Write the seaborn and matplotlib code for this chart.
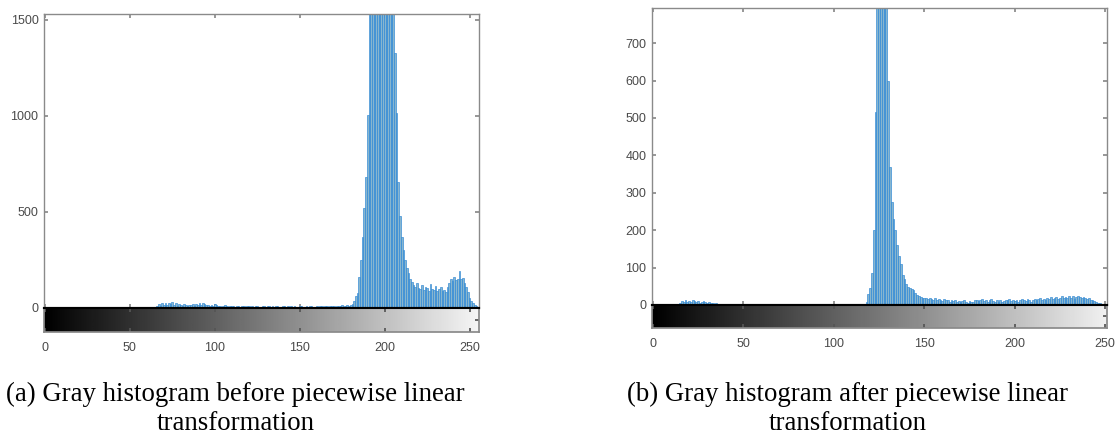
import numpy as np
import pandas as pd
from matplotlib import pyplot as plt
import seaborn as sns

# gray levels 0..255
levels = list(range(256))

# (a) histogram before piecewise linear transformation (counts)
counts_before = (
    [0] * 66
    + [12, 22, 8, 25, 18, 28, 14, 26, 20, 30, 16, 24, 10, 22, 18, 12, 20, 15, 10, 18]
    + [14, 20, 12, 22, 16, 24, 18, 26, 20, 14, 18, 10, 16, 12, 20, 14]
    + [8, 12, 6, 10, 14, 8, 6, 12, 10, 8, 4, 10, 12, 6, 8, 10, 6, 12, 8, 4,
       10, 6, 8, 12, 6, 4, 10, 8, 6, 10, 12, 4, 8, 6, 10, 8, 4, 6, 10, 8,
       6, 12, 4, 8, 6, 10, 4, 6, 8, 10, 6, 4, 8, 6, 10, 8, 6, 4, 10, 6,
       8, 12, 6, 10, 8, 4, 10, 12, 8, 6, 10, 12, 8, 14, 10, 12, 16, 12, 18]
    + [22, 35, 60, 80, 160, 250, 370, 520, 683, 1005,
       1650, 2100, 2500, 2800, 3000, 3100, 3150, 3100, 3000, 2850,
       2700, 2500, 2300, 2000, 1700, 1328, 1015, 657, 480, 370,
       300, 250, 210, 182, 150, 135, 120, 110, 130, 105,
       100, 120, 95, 110, 105, 90, 125, 100, 95, 115,
       90, 100, 110, 90, 95, 85, 110, 130, 150, 140,
       160, 145, 150, 190, 150, 155, 130, 110, 85, 52,
       35, 26, 15, 8, 5]
)

# (b) histogram after piecewise linear transformation
counts_after = (
    [0] * 15
    + [6, 10, 8, 12, 9, 11, 7, 12, 10, 8, 11, 6, 9, 10, 7, 5, 8, 4, 6, 3, 5, 3]
    + [0, 2, 0, 0, 1, 0, 0, 0, 2, 0, 0, 0, 0, 1, 0, 0, 0, 0, 0, 0,
       0, 0, 0, 0, 0, 0, 0, 0, 0, 0, 0, 0, 0, 0, 0, 0, 0, 0, 0, 0,
       0, 0, 0, 0, 0, 0, 0, 0, 0, 0, 0, 0, 0, 0, 0, 0, 0, 0, 0, 0,
       0, 0, 0, 0, 0, 0, 0, 0, 0, 0, 0, 0, 0, 0, 0, 3, 0, 0, 0, 0, 2]
    + [8, 30, 45, 85, 200, 517, 1200, 1800, 2200, 2300,
       2100, 1500, 600, 370, 275, 230, 200, 160, 130, 110,
       80, 70, 55, 48, 45, 42, 40, 32, 28, 25,
       22, 20, 18]
    + [18, 15, 20, 16, 14, 18, 12, 16, 14, 10, 15, 12, 14, 9, 12, 10, 13, 8, 11, 7,
       10, 12, 8, 6, 10, 9, 7, 12, 14, 10, 13, 15, 11, 14, 9, 12, 15, 10, 8, 12,
       9, 13, 7, 11, 14, 12, 15, 10, 13, 11, 14, 9, 12, 16, 13, 11, 15, 12, 9, 14,
       16, 12, 15, 18, 13, 17, 14, 19, 16, 21, 15, 18, 22, 17, 20, 24, 19, 22, 18, 25,
       20, 23, 17, 21, 24, 22, 18, 21, 19, 15, 18, 14, 12, 10, 8, 6, 4, 3, 2, 1,
       1, 0, 0, 0, 0]
)

captions = [
    ("(a) Gray histogram before piecewise linear", "transformation"),
    ("(b) Gray histogram after piecewise linear", "transformation"),
]
x_ticks = [0, 50, 100, 150, 200, 250]
y_ticks_before = [0, 500, 1000, 1500]
y_ticks_after = [0, 100, 200, 300, 400, 500, 600, 700]

sns.set_theme(style="white")
plt.rcParams["font.family"] = ["Liberation Sans", "DejaVu Sans"]

fig = plt.figure(figsize=(11.18, 4.36), dpi=100)

panels = [
    # hist axes rect, colorbar rect, counts, ylim top, yticks, xlim right, caption x
    ([0.0394, 0.2936, 0.389, 0.6744], [0.0394, 0.2385, 0.389, 0.0551],
     counts_before, 1531, y_ticks_before, 255.5, 0.2105),
    ([0.5832, 0.3005, 0.407, 0.6812], [0.5832, 0.2477, 0.407, 0.0528],
     counts_after, 794, y_ticks_after, 251, 0.758),
]

frame = "#8a8a8a"
gradient = np.linspace(0, 1, 256).reshape(1, -1)
serif = ["Liberation Serif", "DejaVu Serif"]

for (rect, crect, counts, ytop, yticks, xright, cx), cap in zip(panels, captions):
    ax = fig.add_axes(rect)
    df = pd.DataFrame({"level": levels, "count": counts})
    sns.histplot(data=df, x="level", weights="count", discrete=True, ax=ax,
                 color="#88b6cf", edgecolor="#2a86d6", linewidth=0.45, alpha=1)
    ax.set_xlim(-0.5, xright)
    ax.set_ylim(0, ytop)
    ax.set_yticks(yticks)
    ax.set_xticks(x_ticks)
    ax.set_xticklabels([])
    ax.set_xlabel("")
    ax.set_ylabel("")
    ax.tick_params(direction="in", length=3, color=frame, top=True, bottom=True,
                   left=True, right=True, labelsize=9, labelcolor="#4a4a4a", pad=4)
    for s in ax.spines.values():
        s.set_color(frame)
        s.set_linewidth(1)
    ax.spines["bottom"].set_color("black")
    ax.spines["bottom"].set_linewidth(1.5)

    # gray level bar under the histogram
    cax = fig.add_axes(crect)
    cax.imshow(gradient, cmap="gray", vmin=0, vmax=1.04, aspect="auto",
               extent=[-0.5, 255.5, 0, 1])
    cax.set_xlim(-0.5, xright)
    cax.set_ylim(0, 1)
    cax.set_xticks(x_ticks)
    cax.set_yticks([0.5])
    cax.tick_params(direction="in", length=3, color="#555555", top=True, bottom=True,
                    left=False, right=True, labelleft=False, labelsize=9,
                    labelcolor="#4a4a4a", pad=7)
    for s in cax.spines.values():
        s.set_color(frame)
    cax.spines["top"].set_color("black")
    cax.spines["top"].set_linewidth(1.5)

    fig.text(cx, 0.08, cap[0], ha="center", va="baseline", fontsize=19.3,
             family=serif, color="black")
    fig.text(cx, 0.014, cap[1], ha="center", va="baseline", fontsize=19.3,
             family=serif, color="black")

fig.savefig("out.png", dpi=100)
